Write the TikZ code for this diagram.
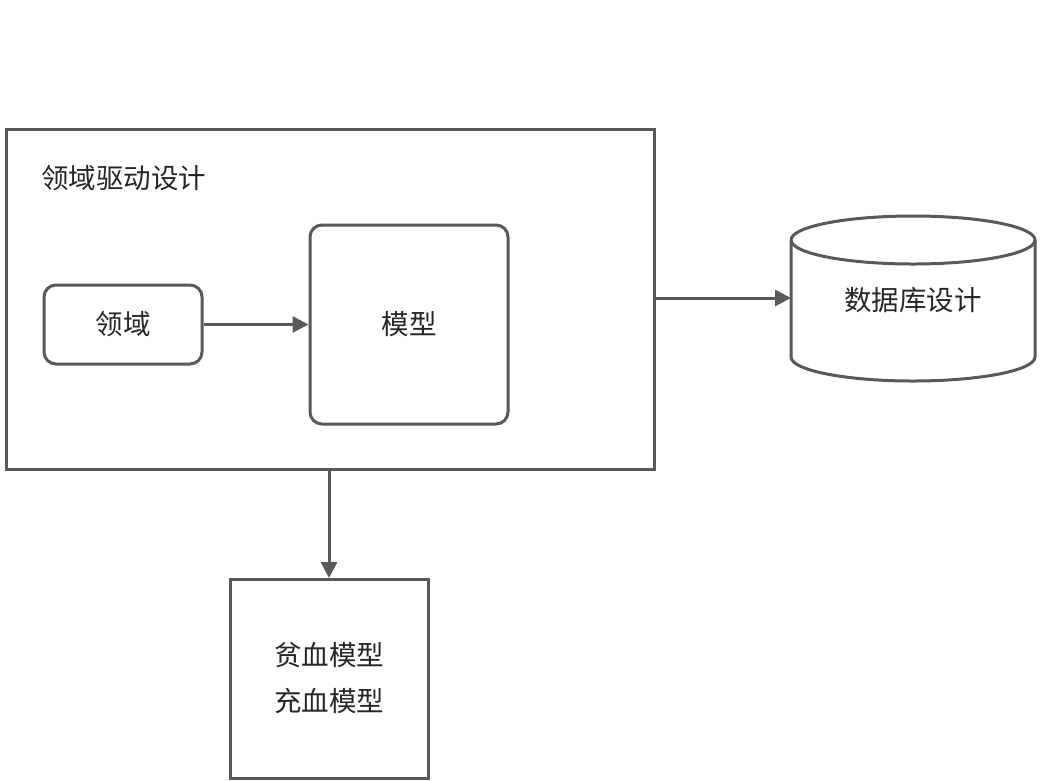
\documentclass[tikz,border=0pt]{standalone}
\usepackage{fontspec}
\newfontfamily\cjk{Noto Sans CJK SC}
\usetikzlibrary{arrows.meta}
\definecolor{ln}{HTML}{595959}
\begin{document}
\begin{tikzpicture}[x=1pt,y=-1pt,
  box/.style={draw=ln,line width=3pt,fill=white},
  rbox/.style={box,rounded corners=12pt},
  lbl/.style={font=\cjk\fontsize{27.5}{34}\selectfont,text=black!85},
  conn/.style={draw=ln,line width=3pt,-{Triangle[length=16pt,width=16pt]}}]
\useasboundingbox (0,0) rectangle (1040,780);
\node[box,minimum width=648pt,minimum height=340pt,anchor=north west,inner sep=0pt] (ddd) at (5,128) {};
\node[lbl,anchor=west,inner sep=0pt] (title) at (41,178) {领域驱动设计};
\node[rbox,minimum width=158pt,minimum height=79pt,inner sep=0pt,lbl] (dom) at (123,324.5) {领域};
\node[rbox,minimum width=198pt,minimum height=199pt,inner sep=0pt,lbl] (model) at (409,324.5) {模型};
\draw[conn] (dom.east) -- (model.west);
% cylinder
\coordinate (cylL) at (791,298);
\draw[ln,line width=3pt,fill=white] (791,240) -- (791,357) arc[start angle=180,end angle=0,x radius=122,y radius=24] -- (1035,240) arc[start angle=0,end angle=-180,x radius=122,y radius=24];
\draw[ln,line width=3pt] (791,240) arc[start angle=180,end angle=0,x radius=122,y radius=24];
\node[lbl] (db) at (913,300) {数据库设计};
\draw[conn] (ddd.east |- cylL) -- (cylL);
\node[box,minimum width=198pt,minimum height=199pt,inner sep=0pt,anchor=north] (anemic) at (329,578) {};
\node[lbl] (t1) at (329,655) {贫血模型};
\node[lbl] (t2) at (329,701) {充血模型};
\draw[conn] (ddd.south -| anemic.north) -- (anemic.north);
\end{tikzpicture}
\end{document}
